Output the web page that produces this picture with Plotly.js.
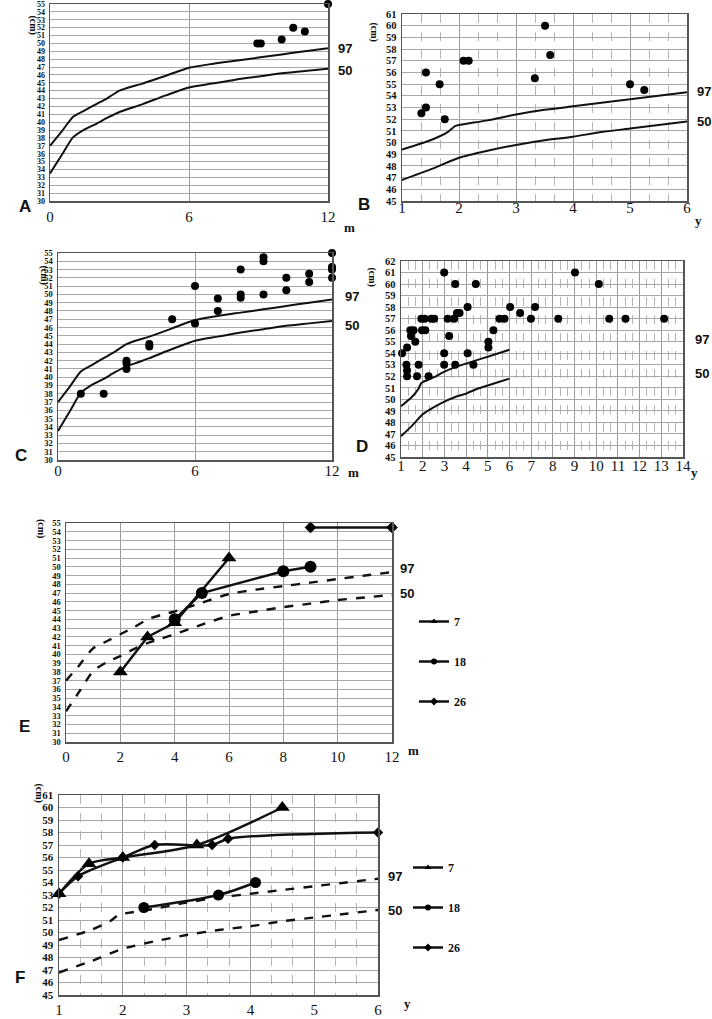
<!DOCTYPE html>
<html>
<head>
<meta charset="utf-8">
<script src="https://cdn.plot.ly/plotly-3.0.1.min.js"></script>
<style>html,body{margin:0;padding:0;background:#fff;}#chart{width:712px;height:1019px;}</style>
</head>
<body>
<div id="chart"></div>
<script>
// ---------- reference curves (months 0-12) ----------
const monthX = [0, 0.5, 1, 1.5, 2, 2.5, 3, 3.5, 4, 5, 6, 7, 8, 9, 10, 11, 12];
const p97Month = [37.0, 38.8, 40.7, 41.5, 42.3, 43.1, 44.0, 44.5, 44.9, 45.9, 46.9, 47.4, 47.8, 48.2, 48.6, 49.0, 49.4];
const p50Month = [33.5, 35.8, 38.1, 39.1, 39.8, 40.6, 41.3, 41.8, 42.3, 43.4, 44.4, 44.9, 45.4, 45.8, 46.2, 46.5, 46.8];
// ---------- reference curves (years 1-6) ----------
const year97X = [1, 1.5, 1.8, 1.93, 2, 2.5, 3, 3.5, 4, 4.5, 5, 5.5, 6];
const p97Year = [49.4, 50.2, 50.9, 51.4, 51.5, 51.9, 52.4, 52.8, 53.1, 53.4, 53.7, 54.0, 54.3];
const year50X = [1, 1.5, 2, 2.5, 3, 3.5, 4, 4.5, 5, 5.5, 6];
const p50Year = [46.8, 47.7, 48.7, 49.3, 49.8, 50.2, 50.5, 50.9, 51.2, 51.5, 51.8];

// ---------- panel A points ----------
const aX = [8.95, 9.1, 10, 10.5, 11, 12];
const aY = [50, 50, 50.5, 52, 51.5, 55];
// ---------- panel B points ----------
const bX = [1.34, 1.42, 1.42, 1.66, 1.75, 2.08, 2.17, 3.33, 3.51, 3.60, 5.0, 5.25];
const bY = [52.5, 53, 56, 55, 52, 57, 57, 55.5, 60, 57.5, 55, 54.5];
// ---------- panel C points ----------
const cX = [1, 2, 3, 3, 3, 4, 4, 5, 6, 6, 7, 7, 8, 8, 8, 9, 9, 9, 10, 10, 11, 11, 12, 12, 12, 12];
const cY = [38, 38, 42, 41.7, 41, 44, 43.7, 47, 51, 46.5, 49.5, 48, 53, 50, 49.6, 54.5, 54, 50, 52, 50.5, 52.5, 51.5, 55, 53.3, 53, 52];
// ---------- panel D points ----------
const dX = [1.05, 1.28, 1.25, 1.28, 1.28, 1.43, 1.58, 1.46, 1.66, 1.81, 1.74, 1.94, 2.09, 1.97, 2.12, 2.27, 2.40, 2.53,
            2.99, 2.99, 2.99, 3.15, 3.22, 3.45, 3.50, 3.50, 3.58, 3.70, 4.07, 4.07, 4.34, 4.45, 5.03, 5.03, 5.26, 5.54, 5.77,
            6.03, 6.49, 6.99, 7.18, 8.25, 9.02, 10.12, 10.60, 11.35, 13.13];
const dY = [54, 54.5, 53, 52.5, 52, 56, 56, 55.5, 55, 53, 52, 57, 57, 56, 56, 52, 57, 57,
            61, 54, 53, 57, 55.5, 57, 60, 53, 57.5, 57.5, 58, 54, 53, 60, 55, 54.5, 56, 57, 57,
            58, 57.5, 57, 58, 57, 61, 60, 57, 57, 57];
// ---------- panel E series (months) ----------
const e7X = [2, 3, 4, 6];        const e7Y = [38, 42, 43.6, 51];
const e18X = [4, 5, 8, 9];       const e18Y = [44, 47, 49.5, 50];
const e26X = [9, 12];            const e26Y = [54.5, 54.5];
// ---------- panel F series (years) ----------
const f7X = [1, 1.47, 2, 3.16, 4.5];               const f7Y = [53.1, 55.5, 56, 57, 60];
const f18X = [2.33, 3.5, 4.08];                    const f18Y = [52, 53, 54];
const f26X = [1, 1.3, 2, 2.5, 3.4, 3.65, 6];       const f26Y = [53.1, 54.5, 56, 57, 57, 57.5, 58];

const seriesNames = ['7', '18', '26'];
const pctNames = ['97', '50'];

// ---------- layout helpers ----------
const W = 712, H = 1019;
const px = (x) => x / W;
const py = (y) => 1 - y / H;

const panels = {
  A: {n: '',  box: [50, 328, 4, 201],   xr: [0, 12], yr: [30, 55], xd: 6, minor: false, yf: 8,    so: 1},
  B: {n: '2', box: [402, 687, 14, 201], xr: [1, 6],  yr: [45, 61], xd: 1, minor: true,  yf: 10.5, so: -8},
  C: {n: '3', box: [58, 332, 253, 460], xr: [0, 12], yr: [30, 55], xd: 6, minor: false, yf: 8.5,  so: -4},
  D: {n: '4', box: [401, 683, 261, 457],xr: [1, 14], yr: [45, 62], xd: 1, minor: true,  yf: 10.5, so: -6},
  E: {n: '5', box: [66, 392, 523, 742], xr: [0, 12], yr: [30, 55], xd: 2, minor: false, yf: 8.5,  so: 0},
  F: {n: '6', box: [59, 378, 795, 995], xr: [1, 6],  yr: [45, 61], xd: 1, minor: true,  yf: 11,   so: 0}
};

const layout = {
  width: W, height: H,
  margin: {l: 0, r: 0, t: 0, b: 0},
  paper_bgcolor: '#fff', plot_bgcolor: '#fff',
  showlegend: true,
  annotations: [],
  legend: {
    x: px(414), y: py(607), xanchor: 'left', yanchor: 'top',
    bgcolor: 'rgba(0,0,0,0)', tracegroupgap: 21, itemwidth: 30,
    font: {family: 'Liberation Serif', size: 12, color: '#111', weight: 'bold'}
  },
  legend2: {
    x: px(408), y: py(853), xanchor: 'left', yanchor: 'top',
    bgcolor: 'rgba(0,0,0,0)', tracegroupgap: 21, itemwidth: 30,
    font: {family: 'Liberation Serif', size: 12, color: '#111', weight: 'bold'}
  }
};

Object.keys(panels).forEach(k => {
  const p = panels[k];
  const [x0, x1, y0, y1] = p.box;
  const xa = {
    domain: [px(x0), px(x1)], anchor: 'y' + p.n, range: p.xr,
    tickmode: 'linear', tick0: p.xr[0], dtick: p.xd,
    showgrid: true, gridcolor: '#9a9a9a', gridwidth: 1,
    showline: true, mirror: true, linecolor: '#555', linewidth: 1.5,
    zeroline: false, ticks: '',
    tickfont: {family: 'Liberation Serif', size: 15, color: '#111'},
    ticklabelstandoff: p.so, ticklabeloverflow: 'allow'
  };
  if (p.minor) {
    xa.minor = {tickmode: 'linear', tick0: p.xr[0], dtick: 1 / 3, showgrid: true,
                gridcolor: '#b5b5b5', griddash: 'dash', gridwidth: 1, ticks: ''};
  }
  const ya = {
    domain: [py(y1), py(y0)], anchor: 'x' + p.n, range: p.yr,
    tickmode: 'linear', tick0: p.yr[0], dtick: 1,
    showgrid: true, gridcolor: '#a8a8a8', gridwidth: 1,
    showline: true, mirror: true, linecolor: '#555', linewidth: 1.5,
    zeroline: false, ticks: '',
    tickfont: {family: 'Liberation Serif', size: p.yf, color: '#111', weight: 'bold'},
    ticklabelstandoff: 2, ticklabeloverflow: 'allow'
  };
  layout['xaxis' + p.n] = xa;
  layout['yaxis' + p.n] = ya;
});

// ---------- annotations ----------
const letterPos = {A: [17, 195], B: [364, 193], C: [13, 455], D: [362, 446], E: [17, 738], F: [13, 989]};
Object.keys(letterPos).forEach(k => {
  layout.annotations.push({xref: 'paper', yref: 'paper', x: px(letterPos[k][0]), y: py(letterPos[k][1]),
    text: k, showarrow: false, font: {family: 'Liberation Sans', size: 17, color: '#111', weight: 'bold'}});
});
const cmPos = [[25, 13], [374, 20], [35, 263], [372, 265], [33, 528], [31, 804]];
cmPos.forEach(c => {
  layout.annotations.push({xref: 'paper', yref: 'paper', x: px(c[0]), y: py(c[1]), text: '(cm)', textangle: 90,
    showarrow: false, font: {family: 'Liberation Serif', size: 10, color: '#111', weight: 'bold'}});
});
const unitPos = [['m', 349, 218], ['y', 704, 211], ['m', 353, 472], ['y', 700, 472], ['m', 413, 760], ['y', 408, 1013]];
unitPos.forEach(u => {
  layout.annotations.push({xref: 'paper', yref: 'paper', x: px(u[1]), y: py(u[2]), text: u[0],
    showarrow: false, font: {family: 'Liberation Serif', size: 13, color: '#111', weight: 'bold'}});
});
// percentile labels, anchored to the data axis of each panel
const pctLab = [
  ['', 336, 49.3, 46.5], ['2', 695, 54.4, 51.8], ['3', 343, 49.7, 46.3],
  ['4', 693, 55.15, 52.2], ['5', 398, 49.75, 46.9], ['6', 386, 54.5, 51.8]
];
pctLab.forEach(l => {
  [l[2], l[3]].forEach((yv, i) => {
    layout.annotations.push({xref: 'paper', yref: 'y' + l[0], x: px(l[1]), y: yv, xanchor: 'left',
      text: pctNames[i], showarrow: false, font: {family: 'Liberation Sans', size: 13, color: '#111', weight: 'bold'}});
  });
});

// ---------- traces ----------
const traces = [];
function refCurves(n, dash, isMonth) {
  const xs97 = isMonth ? monthX : year97X, xs50 = isMonth ? monthX : year50X;
  const ys97 = isMonth ? p97Month : p97Year, ys50 = isMonth ? p50Month : p50Year;
  [[xs97, ys97], [xs50, ys50]].forEach(c => {
    traces.push({x: c[0], y: c[1], xaxis: 'x' + n, yaxis: 'y' + n, mode: 'lines', showlegend: false,
      line: {color: '#111', width: dash ? 2.4 : 2, dash: dash ? 'dash' : 'solid', shape: 'spline', smoothing: 0.6},
      hoverinfo: 'skip'});
  });
}
function dots(n, xs, ys) {
  traces.push({x: xs, y: ys, xaxis: 'x' + n, yaxis: 'y' + n, mode: 'markers', showlegend: false, cliponaxis: false,
    marker: {color: '#000', size: 8, symbol: 'circle'}});
}
refCurves('', false, true);  dots('', aX, aY);
refCurves('2', false, false); dots('2', bX, bY);
refCurves('3', false, true);  dots('3', cX, cY);
refCurves('4', false, false); dots('4', dX, dY);
refCurves('5', true, true);
refCurves('6', true, false);

const symbols = ['triangle-up', 'circle', 'diamond'];
const eSeries = [[e7X, e7Y, 13], [e18X, e18Y, 12], [e26X, e26Y, 9]];
const fSeries = [[f7X, f7Y, 13], [f18X, f18Y, 11], [f26X, f26Y, 8]];
eSeries.forEach((s, i) => {
  traces.push({x: s[0], y: s[1], xaxis: 'x5', yaxis: 'y5', mode: 'lines+markers', showlegend: false, cliponaxis: false,
    line: {color: '#111', width: 2.5}, marker: {color: '#000', size: s[2], symbol: symbols[i]}});
});
fSeries.forEach((s, i) => {
  traces.push({x: s[0], y: s[1], xaxis: 'x6', yaxis: 'y6', mode: 'lines+markers', showlegend: false, cliponaxis: false,
    line: {color: '#111', width: 2.5, shape: 'spline', smoothing: 0.8}, marker: {color: '#000', size: s[2], symbol: symbols[i]}});
});
// legend entries (E uses legend, F uses legend2)
[['x5', 'y5', 'legend'], ['x6', 'y6', 'legend2']].forEach(L => {
  seriesNames.forEach((nm, i) => {
    traces.push({x: [null], y: [null], xaxis: L[0], yaxis: L[1], legend: L[2], legendgroup: L[2] + nm,
      name: nm, mode: 'lines+markers', showlegend: true,
      line: {color: '#111', width: 2.5}, marker: {color: '#000', size: 6, symbol: symbols[i]}});
  });
});

Plotly.newPlot('chart', traces, layout, {displayModeBar: false, staticPlot: true});
</script>
</body>
</html>
